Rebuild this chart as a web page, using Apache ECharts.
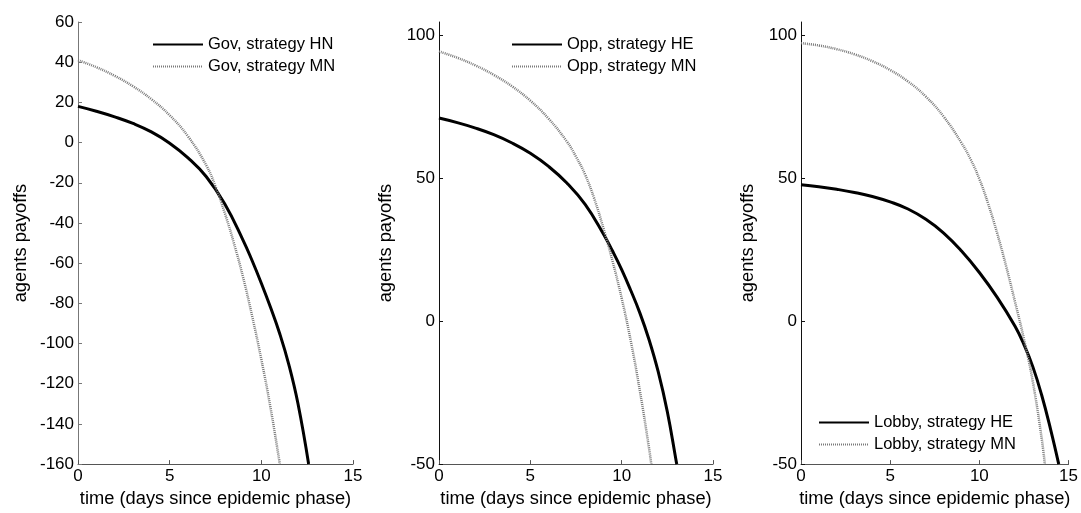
<!DOCTYPE html>
<html>
<head>
<meta charset="utf-8">
<script src="https://cdn.jsdelivr.net/npm/echarts@6/dist/echarts.min.js"></script>
<style>html,body{margin:0;padding:0;background:#fff}#c{width:1081px;height:513px}</style>
</head>
<body>
<div id="c"></div>
<script>
// ---- data ----
var xTicks = [0, 5, 10, 15];
var yTicksGov = [-160, -140, -120, -100, -80, -60, -40, -20, 0, 20, 40, 60];
var yTicksOther = [-50, 0, 50, 100];

var tGovHN = [0, 1, 2, 3, 4, 5, 6, 7, 8, 9, 9.5, 10, 10.5, 11, 11.5, 12, 12.58];
var govHN  = [18, 15.6, 12.8, 9.5, 5.3, -0.3, -7.6, -17, -30.5, -48.5, -58.8, -70, -82, -95, -110.5, -130, -160];
var tGovMN = [0, 1, 2, 3, 4, 5, 6, 7, 7.5, 8, 8.5, 9, 9.5, 10, 10.5, 11, 11.01];
var govMN  = [41, 37.5, 33.2, 28, 21.6, 13.6, 3.1, -11.4, -21.9, -34.9, -49.9, -66.9, -86.4, -107.9, -131.9, -159.4, -160];

var tOppHE = [0, 1, 2, 3, 4, 5, 6, 7, 8, 9, 9.5, 10, 10.5, 11, 11.5, 12, 12.5, 13, 13.02];
var oppHE  = [71, 69.4, 67.5, 65.2, 62.3, 58.7, 54.1, 48.3, 40.8, 30.5, 24.5, 18, 10.7, 2.8, -6.5, -17.7, -31.7, -49.5, -50];
var tOppMN = [0, 1, 2, 3, 4, 5, 6, 7, 7.5, 8, 8.5, 9, 9.5, 10, 10.5, 11, 11.5, 11.62];
var oppMN  = [94.3, 92.1, 89.4, 86.1, 82.1, 77.1, 70.8, 62.8, 57.5, 51.2, 42.8, 32.5, 21, 8, -7, -24.5, -44.5, -50];

var tLobHE = [0, 1, 2, 3, 4, 5, 6, 7, 8, 9, 10, 11, 12, 12.5, 13, 13.5, 14, 14.45];
var lobHE  = [47.7, 47, 46.1, 45, 43.6, 41.7, 39.2, 35.6, 30.8, 24.5, 17, 8.3, -1.8, -8.2, -16, -26, -38, -50];
var tLobMN = [0, 1, 2, 3, 4, 5, 6, 7, 8, 9, 9.5, 10, 10.5, 11, 11.5, 12, 12.5, 13, 13.5, 13.67];
var lobMN  = [97.2, 96.4, 95.1, 93.3, 90.9, 87.8, 83.8, 78.5, 71.5, 62.3, 56.7, 49.7, 40.9, 30.7, 19.2, 6.7, -6.3, -21.3, -41.3, -50];

function pairs(t, v) { return t.map(function (x, i) { return [x, v[i]]; }); }

var FONT = 'Liberation Sans';
var chart = echarts.init(document.getElementById('c'), null, {renderer: 'canvas'});

var grids = [
  {left: 78, width: 275, top: 22, height: 443},
  {left: 439, width: 274, top: 22, height: 443},
  {left: 801, width: 273, top: 22, height: 443}
];

function xAxis(i) {
  return {
    type: 'value', gridIndex: i, min: 0, max: 15, interval: 5,
    name: 'time (days since epidemic phase)', nameLocation: 'middle', nameGap: 22,
    nameTextStyle: {fontFamily: FONT, fontSize: 18.3, color: '#000'},
    axisLine: {show: true, onZero: false, lineStyle: {color: '#555', width: 1}},
    axisTick: {show: true, inside: true, length: 4, lineStyle: {color: '#555'}},
    axisLabel: {fontFamily: FONT, fontSize: 17, color: '#000', margin: 4, showMaxLabel: true},
    splitLine: {show: false}
  };
}
function yAxis(i, min, max, interval, ticks, lineColor) {
  return {
    type: 'value', gridIndex: i, min: min, max: max, interval: interval,
    name: 'agents payoffs', nameLocation: 'middle', nameGap: i === 0 ? 48 : 44,
    nameTextStyle: {fontFamily: FONT, fontSize: 18.3, color: '#000'},
    axisLine: {show: true, onZero: false, lineStyle: {color: lineColor, width: 1}},
    axisTick: {show: true, inside: true, length: 4, customValues: ticks, lineStyle: {color: lineColor}},
    axisLabel: {fontFamily: FONT, fontSize: 17, color: '#000', margin: 4, customValues: ticks},
    splitLine: {show: false}
  };
}

function solid(name, i, data) {
  return {name: name, type: 'line', xAxisIndex: i, yAxisIndex: i, data: data,
    showSymbol: false, symbol: 'none', smooth: 0.45, animation: false,
    lineStyle: {color: '#000', width: 3, type: 'solid'}, itemStyle: {color: '#000'}};
}
function dotted(name, i, data) {
  return {name: name, type: 'line', xAxisIndex: i, yAxisIndex: i, data: data,
    showSymbol: false, symbol: 'none', smooth: 0.45, animation: false,
    lineStyle: {color: '#7a7a7a', width: 2.5, type: [1, 1]}, itemStyle: {color: '#7a7a7a'}};
}

function legend(names, left, top) {
  return {
    data: names, orient: 'vertical', left: left, top: top, padding: 0,
    itemWidth: 50, itemHeight: 14, itemGap: 5,
    itemStyle: {opacity: 0},
    textStyle: {fontFamily: FONT, fontSize: 16.5, color: '#000', lineHeight: 16},
    selectedMode: false
  };
}

chart.setOption({
  animation: false,
  backgroundColor: '#fff',
  grid: grids,
  xAxis: [xAxis(0), xAxis(1), xAxis(2)],
  yAxis: [
    yAxis(0, -160, 60, 20, yTicksGov, '#777'),
    yAxis(1, -50, 104.6, 50, yTicksOther, '#111'),
    yAxis(2, -50, 104.6, 50, yTicksOther, '#111')
  ],
  legend: [
    legend(['Gov, strategy HN', 'Gov, strategy MN'], 152, 36),
    legend(['Opp, strategy HE', 'Opp, strategy MN'], 511, 36),
    legend(['Lobby, strategy HE', 'Lobby, strategy MN'], 818, 414)
  ],
  series: [
    solid('Gov, strategy HN', 0, pairs(tGovHN, govHN)),
    dotted('Gov, strategy MN', 0, pairs(tGovMN, govMN)),
    solid('Opp, strategy HE', 1, pairs(tOppHE, oppHE)),
    dotted('Opp, strategy MN', 1, pairs(tOppMN, oppMN)),
    solid('Lobby, strategy HE', 2, pairs(tLobHE, lobHE)),
    dotted('Lobby, strategy MN', 2, pairs(tLobMN, lobMN))
  ]
});
</script>
</body>
</html>
